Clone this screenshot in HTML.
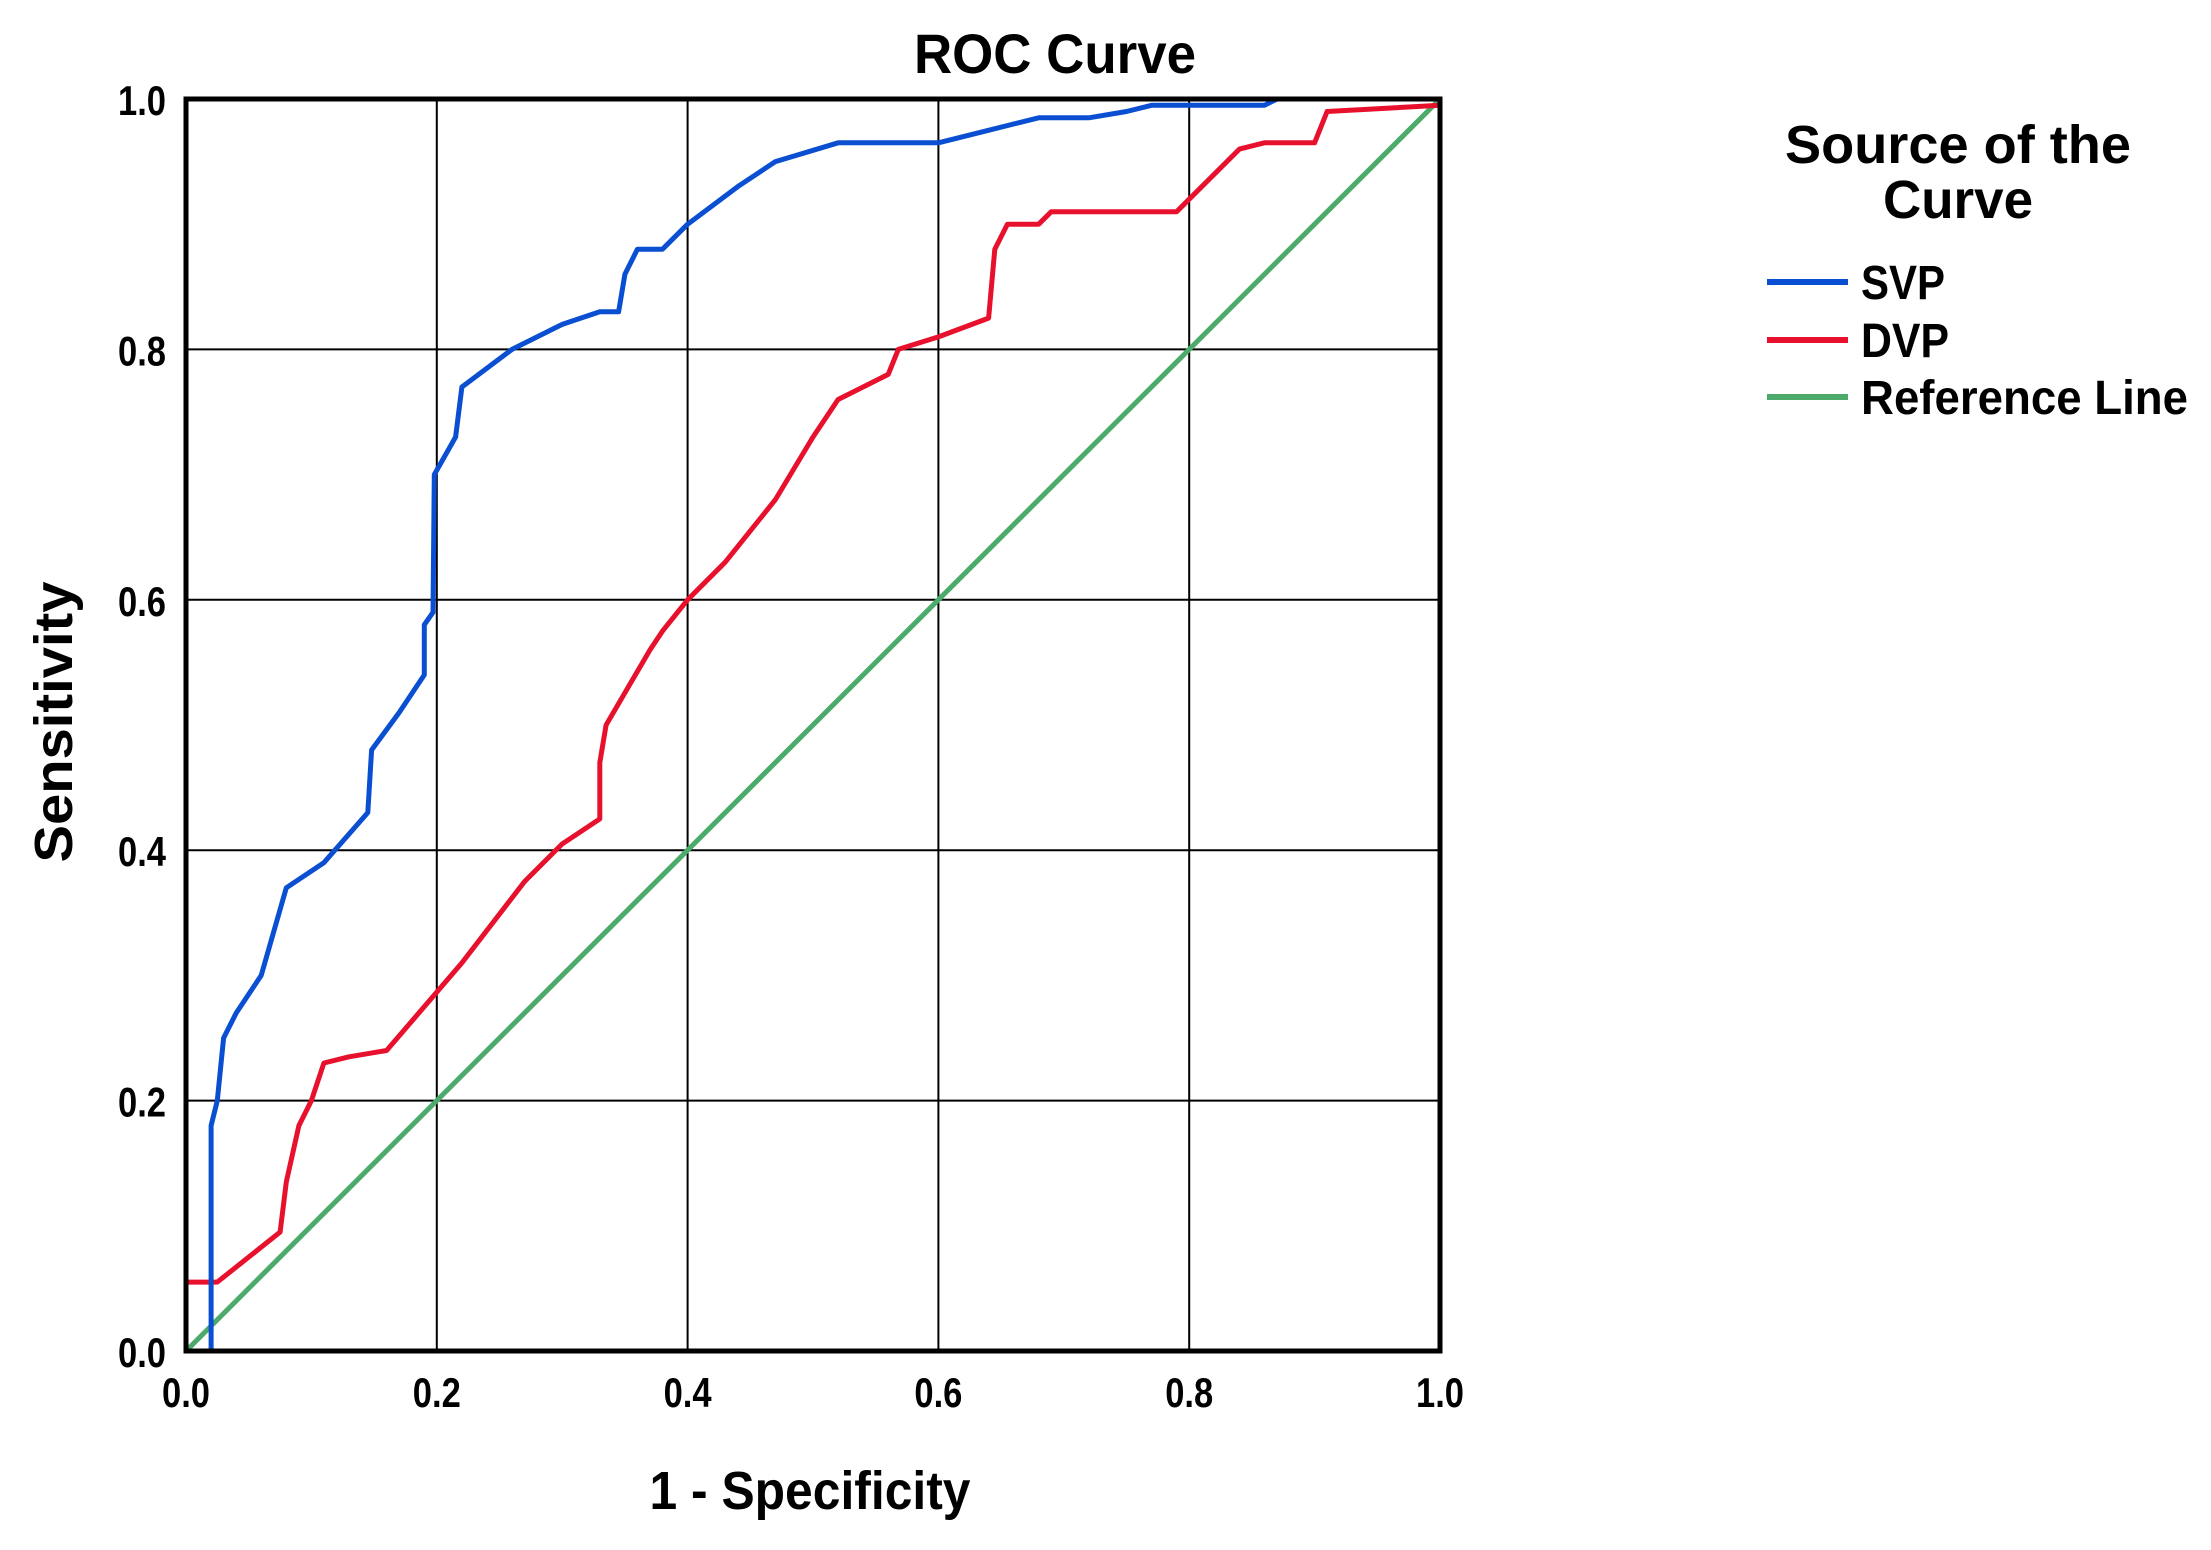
<!DOCTYPE html>
<html><head><meta charset="utf-8"><style>
html,body{margin:0;padding:0;background:#fff;}
svg{display:block;font-family:"Liberation Sans",sans-serif;font-weight:bold;}
</style></head><body>
<svg id="chart" width="2211" height="1550" viewBox="0 0 2211 1550" xmlns="http://www.w3.org/2000/svg">
<rect width="2211" height="1550" fill="#fff"/>
<text x="1055" y="73" font-size="56" text-anchor="middle" textLength="282" lengthAdjust="spacingAndGlyphs">ROC Curve</text>
<g id="grid"></g>
<g id="series"></g>
<rect x="186" y="99" width="1254" height="1252" fill="none" stroke="#000" stroke-width="5"/>
<g id="ticks"></g>
<text x="810" y="1509" font-size="54" text-anchor="middle" textLength="321" lengthAdjust="spacingAndGlyphs">1 - Specificity</text>
<text transform="translate(72,722) rotate(-90)" font-size="54" text-anchor="middle" textLength="281" lengthAdjust="spacingAndGlyphs">Sensitivity</text>
<g>
<text x="1958" y="163" font-size="54" text-anchor="middle" textLength="346" lengthAdjust="spacingAndGlyphs">Source of the</text>
<text x="1958" y="218" font-size="54" text-anchor="middle" textLength="150" lengthAdjust="spacingAndGlyphs">Curve</text>
<line x1="1767" y1="282" x2="1848" y2="282" stroke="#0a4fd1" stroke-width="6"/>
<text x="1861" y="299" font-size="48" textLength="84" lengthAdjust="spacingAndGlyphs">SVP</text>
<line x1="1767" y1="340" x2="1848" y2="340" stroke="#e8112d" stroke-width="6"/>
<text x="1861" y="357" font-size="48" textLength="88" lengthAdjust="spacingAndGlyphs">DVP</text>
<line x1="1767" y1="397" x2="1848" y2="397" stroke="#4caa6a" stroke-width="6"/>
<text x="1861" y="414" font-size="48" textLength="327" lengthAdjust="spacingAndGlyphs">Reference Line</text>
</g>
</svg>
<script>
const tickValues = [0.0, 0.2, 0.4, 0.6, 0.8, 1.0];
const tickLabels = ["0.0", "0.2", "0.4", "0.6", "0.8", "1.0"];
const svpFpr = [0.02,0.02,0.025,0.03,0.04,0.06,0.08,0.11,0.145,0.148,0.17,0.19,0.19,0.197,0.198,0.215,0.22,0.26,0.3,0.33,0.345,0.35,0.36,0.38,0.4,0.44,0.47,0.52,0.6,0.62,0.66,0.68,0.72,0.75,0.77,0.86,0.87,1.0];
const svpTpr = [0,0.18,0.2,0.25,0.27,0.3,0.37,0.39,0.43,0.48,0.51,0.54,0.58,0.59,0.70,0.73,0.77,0.80,0.82,0.83,0.83,0.86,0.88,0.88,0.90,0.93,0.95,0.965,0.965,0.97,0.98,0.985,0.985,0.99,0.995,0.995,1.0,1.0];
const dvpFpr = [0,0,0.025,0.05,0.075,0.08,0.09,0.1,0.11,0.13,0.16,0.22,0.27,0.3,0.33,0.33,0.335,0.37,0.38,0.4,0.43,0.47,0.5,0.52,0.56,0.568,0.6,0.64,0.645,0.655,0.68,0.69,0.79,0.8,0.84,0.86,0.9,0.91,1.0];
const dvpTpr = [0,0.055,0.055,0.075,0.095,0.135,0.18,0.2,0.23,0.235,0.24,0.31,0.375,0.405,0.425,0.47,0.5,0.56,0.575,0.6,0.63,0.68,0.73,0.76,0.78,0.80,0.81,0.825,0.88,0.9,0.9,0.91,0.91,0.92,0.96,0.965,0.965,0.99,0.995];
const refFpr = [0, 1];
const refTpr = [0, 1];

const L=186,R=1440,T=99,B=1351;
const NS="http://www.w3.org/2000/svg";
const sx=v=>L+v*(R-L);
const sy=v=>B-v*(B-T);
function mk(tag,attrs,parent){const e=document.createElementNS(NS,tag);for(const k in attrs)e.setAttribute(k,attrs[k]);parent.appendChild(e);return e;}
const grid=document.getElementById('grid'),ticks=document.getElementById('ticks'),series=document.getElementById('series');
tickValues.forEach((v,i)=>{
  const gx=mk('line',{x1:sx(v),y1:T,x2:sx(v),y2:B,stroke:'#000','stroke-width':2},grid);
  
  
  const gy=mk('line',{x1:L,y1:sy(v),x2:R,y2:sy(v),stroke:'#000','stroke-width':2},grid);
  
  
  const tx=mk('text',{x:sx(v),y:1407,'font-size':42,'text-anchor':'middle',textLength:48,lengthAdjust:'spacingAndGlyphs'},ticks);
  tx.textContent=tickLabels[i];
  
  
  const ty=mk('text',{x:166,y:sy(v)+16,'font-size':42,'text-anchor':'end',textLength:48,lengthAdjust:'spacingAndGlyphs'},ticks);
  ty.textContent=tickLabels[i];
  
  
});
function line(xs,ys,color,name){
  const d=xs.map((x,i)=>(i?'L':'M')+sx(x).toFixed(1)+' '+sy(ys[i]).toFixed(1)).join(' ');
  const p=mk('path',{d:d,fill:'none',stroke:color,'stroke-width':5,'stroke-linejoin':'round'},series);
  
  
}
line(refFpr,refTpr,'#4caa6a','reference-line');
line(dvpFpr,dvpTpr,'#e8112d','dvp-curve');
line(svpFpr,svpTpr,'#0a4fd1','svp-curve');
</script>
</body></html>
